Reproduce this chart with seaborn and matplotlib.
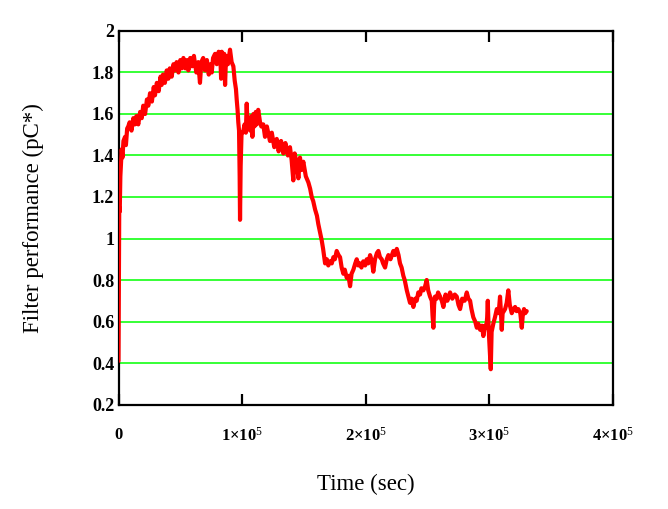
import numpy as np
import pandas as pd
import matplotlib
matplotlib.use("Agg")
import matplotlib.pyplot as plt
import seaborn as sns

# ---- data (time in thousands of seconds, filter performance) ----
t_rise = [0, 0.3, 0.6, 1.0, 1.5, 2.0, 2.6, 3.2, 4.0, 5.3, 6.0, 7.0, 7.9, 9.0, 10.5,
          12.0, 13.3, 14.5, 16.0, 17.5, 18.8, 20.0, 21.5, 23.0, 24.1, 25.5, 27.0,
          28.5, 29.5, 31.0, 32.5, 34.0, 34.9, 36.0, 37.5, 39.0, 40.3, 41.5, 43.0, 44.5]
v_rise = [0.41, 0.75, 1.15, 1.13, 1.30, 1.36, 1.43, 1.39, 1.47, 1.49, 1.45, 1.53, 1.54, 1.56, 1.52,
          1.58, 1.55, 1.59, 1.55, 1.61, 1.58, 1.64, 1.60, 1.67, 1.64, 1.70, 1.66,
          1.73, 1.69, 1.75, 1.71, 1.78, 1.74, 1.79, 1.75, 1.81, 1.77, 1.82, 1.78, 1.84]

t_plateau = [45.7, 47.0, 48.5, 50.0, 51.1, 52.5, 54.0, 55.5, 56.5, 58.0, 59.5, 61.0, 61.9,
             63.0, 64.5, 65.9, 67.0, 68.5, 70.0, 71.5, 73.0, 74.5, 75.4, 76.5, 78.1, 79.5,
             81.0, 82.5, 83.0, 83.5, 84.5, 85.5, 86.2, 87.0, 88.5, 90.2, 91.5, 92.9, 94.0]
v_plateau = [1.81, 1.85, 1.80, 1.86, 1.82, 1.87, 1.82, 1.86, 1.81, 1.87, 1.83, 1.88, 1.84,
             1.80, 1.85, 1.75, 1.85, 1.87, 1.81, 1.86, 1.79, 1.84, 1.80, 1.87, 1.89, 1.84,
             1.90, 1.85, 1.77, 1.90, 1.85, 1.89, 1.74, 1.88, 1.84, 1.91, 1.85, 1.83, 1.76]

t_drop1 = [95.0, 95.6, 96.3, 96.9, 97.5, 98.0, 98.3, 98.8, 99.5, 101.0, 102.0, 103.0, 103.7,
           104.5, 105.5, 106.4, 107.5, 108.3, 109.1, 110.0, 111.0, 111.8, 113.0, 114.5,
           115.5, 117.1, 118.5, 120.0, 122.5, 124.0, 126.0, 128.0, 129.5, 131.5, 133.3,
           135.0, 137.0, 138.7, 140.0, 141.4, 142.5, 144.2, 145.5, 146.8, 148.0, 149.5]
v_drop1 = [1.72, 1.67, 1.62, 1.56, 1.52, 1.30, 1.09, 1.35, 1.50, 1.52, 1.55, 1.51, 1.65,
           1.53, 1.58, 1.52, 1.59, 1.49, 1.60, 1.54, 1.61, 1.55, 1.62, 1.56,
           1.54, 1.55, 1.49, 1.54, 1.47, 1.51, 1.44, 1.48, 1.42, 1.47, 1.41,
           1.46, 1.40, 1.44, 1.38, 1.28, 1.41, 1.36, 1.29, 1.39, 1.33, 1.37]

t_drop2 = [151.5, 153.6, 155.0, 156.3, 157.5, 159.0, 160.5, 161.6, 163.0, 164.4, 165.5,
           167.1, 168.5, 169.7, 171.1, 172.5, 173.8, 175.0, 176.5, 178.0, 179.2, 180.5,
           181.9, 183.0, 184.6, 186.0, 187.3, 188.5, 190.0, 191.5, 192.7, 194.0, 195.4,
           196.5, 198.0, 199.5, 200.8, 202.0, 203.5, 205.0, 206.1, 207.5, 209.0, 210.2,
           211.5, 212.9, 214.0, 215.6, 217.0, 218.3, 220.0, 222.3, 223.5, 225.1, 226.5]
v_drop2 = [1.30, 1.27, 1.24, 1.20, 1.18, 1.14, 1.11, 1.07, 1.03, 0.99, 0.95,
           0.88, 0.90, 0.87, 0.89, 0.88, 0.91, 0.90, 0.94, 0.92, 0.91, 0.86,
           0.83, 0.85, 0.81, 0.82, 0.77, 0.83, 0.85, 0.88, 0.90, 0.87, 0.88,
           0.86, 0.89, 0.87, 0.90, 0.88, 0.92, 0.89, 0.84, 0.90, 0.93, 0.94,
           0.91, 0.90, 0.88, 0.86, 0.90, 0.92, 0.90, 0.94, 0.92, 0.95, 0.92]

t_tail = [227.7, 229.0, 230.4, 231.5, 233.2, 234.5, 235.8, 237.0, 238.5, 240.0, 241.2,
          242.5, 243.9, 245.0, 246.6, 248.0, 249.3, 250.5, 252.0, 253.4, 254.0, 254.7,
          255.3, 256.0, 257.4, 258.5, 260.1, 261.5, 262.8, 264.5, 266.0, 268.2, 270.0,
          272.0, 273.6, 275.0, 276.3, 278.0, 280.0, 281.7, 283.0, 284.4, 285.5, 287.0,
          288.5, 289.8, 291.0, 292.5, 294.0, 295.1, 296.5, 297.5, 298.2, 298.7, 299.2,
          299.7, 300.4, 301.1, 301.8, 303.2, 304.5, 306.0, 307.5, 308.6, 309.3, 310.0,
          310.7, 312.7, 314.0, 315.3, 316.5, 318.1, 319.5, 320.8, 322.0, 323.4, 325.0,
          326.2, 327.0, 328.0, 329.0, 330.2]
v_tail = [0.88, 0.86, 0.82, 0.80, 0.75, 0.72, 0.69, 0.71, 0.67, 0.71, 0.70,
          0.74, 0.73, 0.76, 0.75, 0.77, 0.80, 0.75, 0.72, 0.70, 0.63, 0.57,
          0.68, 0.72, 0.71, 0.74, 0.72, 0.70, 0.67, 0.73, 0.70, 0.74, 0.71,
          0.73, 0.72, 0.68, 0.66, 0.71, 0.70, 0.74, 0.71, 0.70, 0.66, 0.62,
          0.60, 0.57, 0.59, 0.56, 0.58, 0.53, 0.58, 0.57, 0.62, 0.70, 0.60,
          0.53, 0.45, 0.37, 0.55, 0.59, 0.62, 0.66, 0.64, 0.72, 0.65, 0.56,
          0.64, 0.66, 0.69, 0.75, 0.68, 0.64, 0.66, 0.67, 0.65, 0.66, 0.64,
          0.57, 0.63, 0.66, 0.64, 0.65]

y_ticks = [0.2, 0.4, 0.6, 0.8, 1.0, 1.2, 1.4, 1.6, 1.8, 2.0]
y_tick_labels = ["0.2", "0.4", "0.6", "0.8", "1", "1.2", "1.4", "1.6", "1.8", "2"]
x_ticks = [0, 1e5, 2e5, 3e5, 4e5]
x_tick_labels = [r"$\mathbf{0}$",
                 r"$\mathbf{1{\times}10}^{\mathrm{5}}$",
                 r"$\mathbf{2{\times}10}^{\mathrm{5}}$",
                 r"$\mathbf{3{\times}10}^{\mathrm{5}}$",
                 r"$\mathbf{4{\times}10}^{\mathrm{5}}$"]

times = t_rise + t_plateau + t_drop1 + t_drop2 + t_tail
vals = v_rise + v_plateau + v_drop1 + v_drop2 + v_tail
assert len(times) == len(vals)
df = pd.DataFrame({"time": np.array(times) * 1000.0, "perf": vals})

# ---- styling ----
sns.set_style("white")
plt.rcParams["font.family"] = ["Liberation Serif", "DejaVu Serif"]
plt.rcParams["mathtext.fontset"] = "custom"
plt.rcParams["mathtext.rm"] = "Liberation Serif"
plt.rcParams["mathtext.bf"] = "Liberation Serif:bold"
plt.rcParams["mathtext.it"] = "Liberation Serif:italic"
plt.rcParams["text.color"] = "black"
plt.rcParams["xtick.color"] = "black"
plt.rcParams["ytick.color"] = "black"

fig = plt.figure(figsize=(6.68, 5.09), dpi=100)
ax = fig.add_axes([0.1774, 0.2053, 0.9177 - 0.1774, 0.9391 - 0.2053])

sns.lineplot(data=df, x="time", y="perf", ax=ax, color="#ff0000",
             linewidth=3.0, estimator=None, sort=False, zorder=3)

ax.set_xlim(0, 4e5)
ax.set_ylim(0.2, 2.0)
ax.set_yticks(y_ticks)
ax.set_yticklabels(y_tick_labels, fontweight="bold", fontsize=13, color="black")
ax.set_xticks(x_ticks)
ax.set_xticklabels(x_tick_labels, fontsize=12, color="black")

ax.yaxis.grid(True, color="#00ff00", linewidth=1.1, zorder=1)
ax.xaxis.grid(False)
ax.set_axisbelow(True)

for s in ax.spines.values():
    s.set_visible(True)
    s.set_color("black")
    s.set_linewidth(1.6)

ax.tick_params(axis="x", which="both", direction="in", length=8, width=1.6,
               top=True, bottom=True, pad=16, colors="black")
ax.tick_params(axis="y", which="both", direction="in", length=0, pad=3,
               left=True, right=False, colors="black")

ax.set_xlabel("")
ax.set_ylabel("")
fig.text(33 / 668, 1 - 218 / 509, "Filter performance (pC*)", rotation=90,
         ha="center", va="center", fontsize=16.5, color="black")
fig.text(366 / 668, 1 - 484 / 509, "Time (sec)", ha="center", va="center",
         fontsize=16.5, color="black")

fig.savefig("out.png", dpi=100)
